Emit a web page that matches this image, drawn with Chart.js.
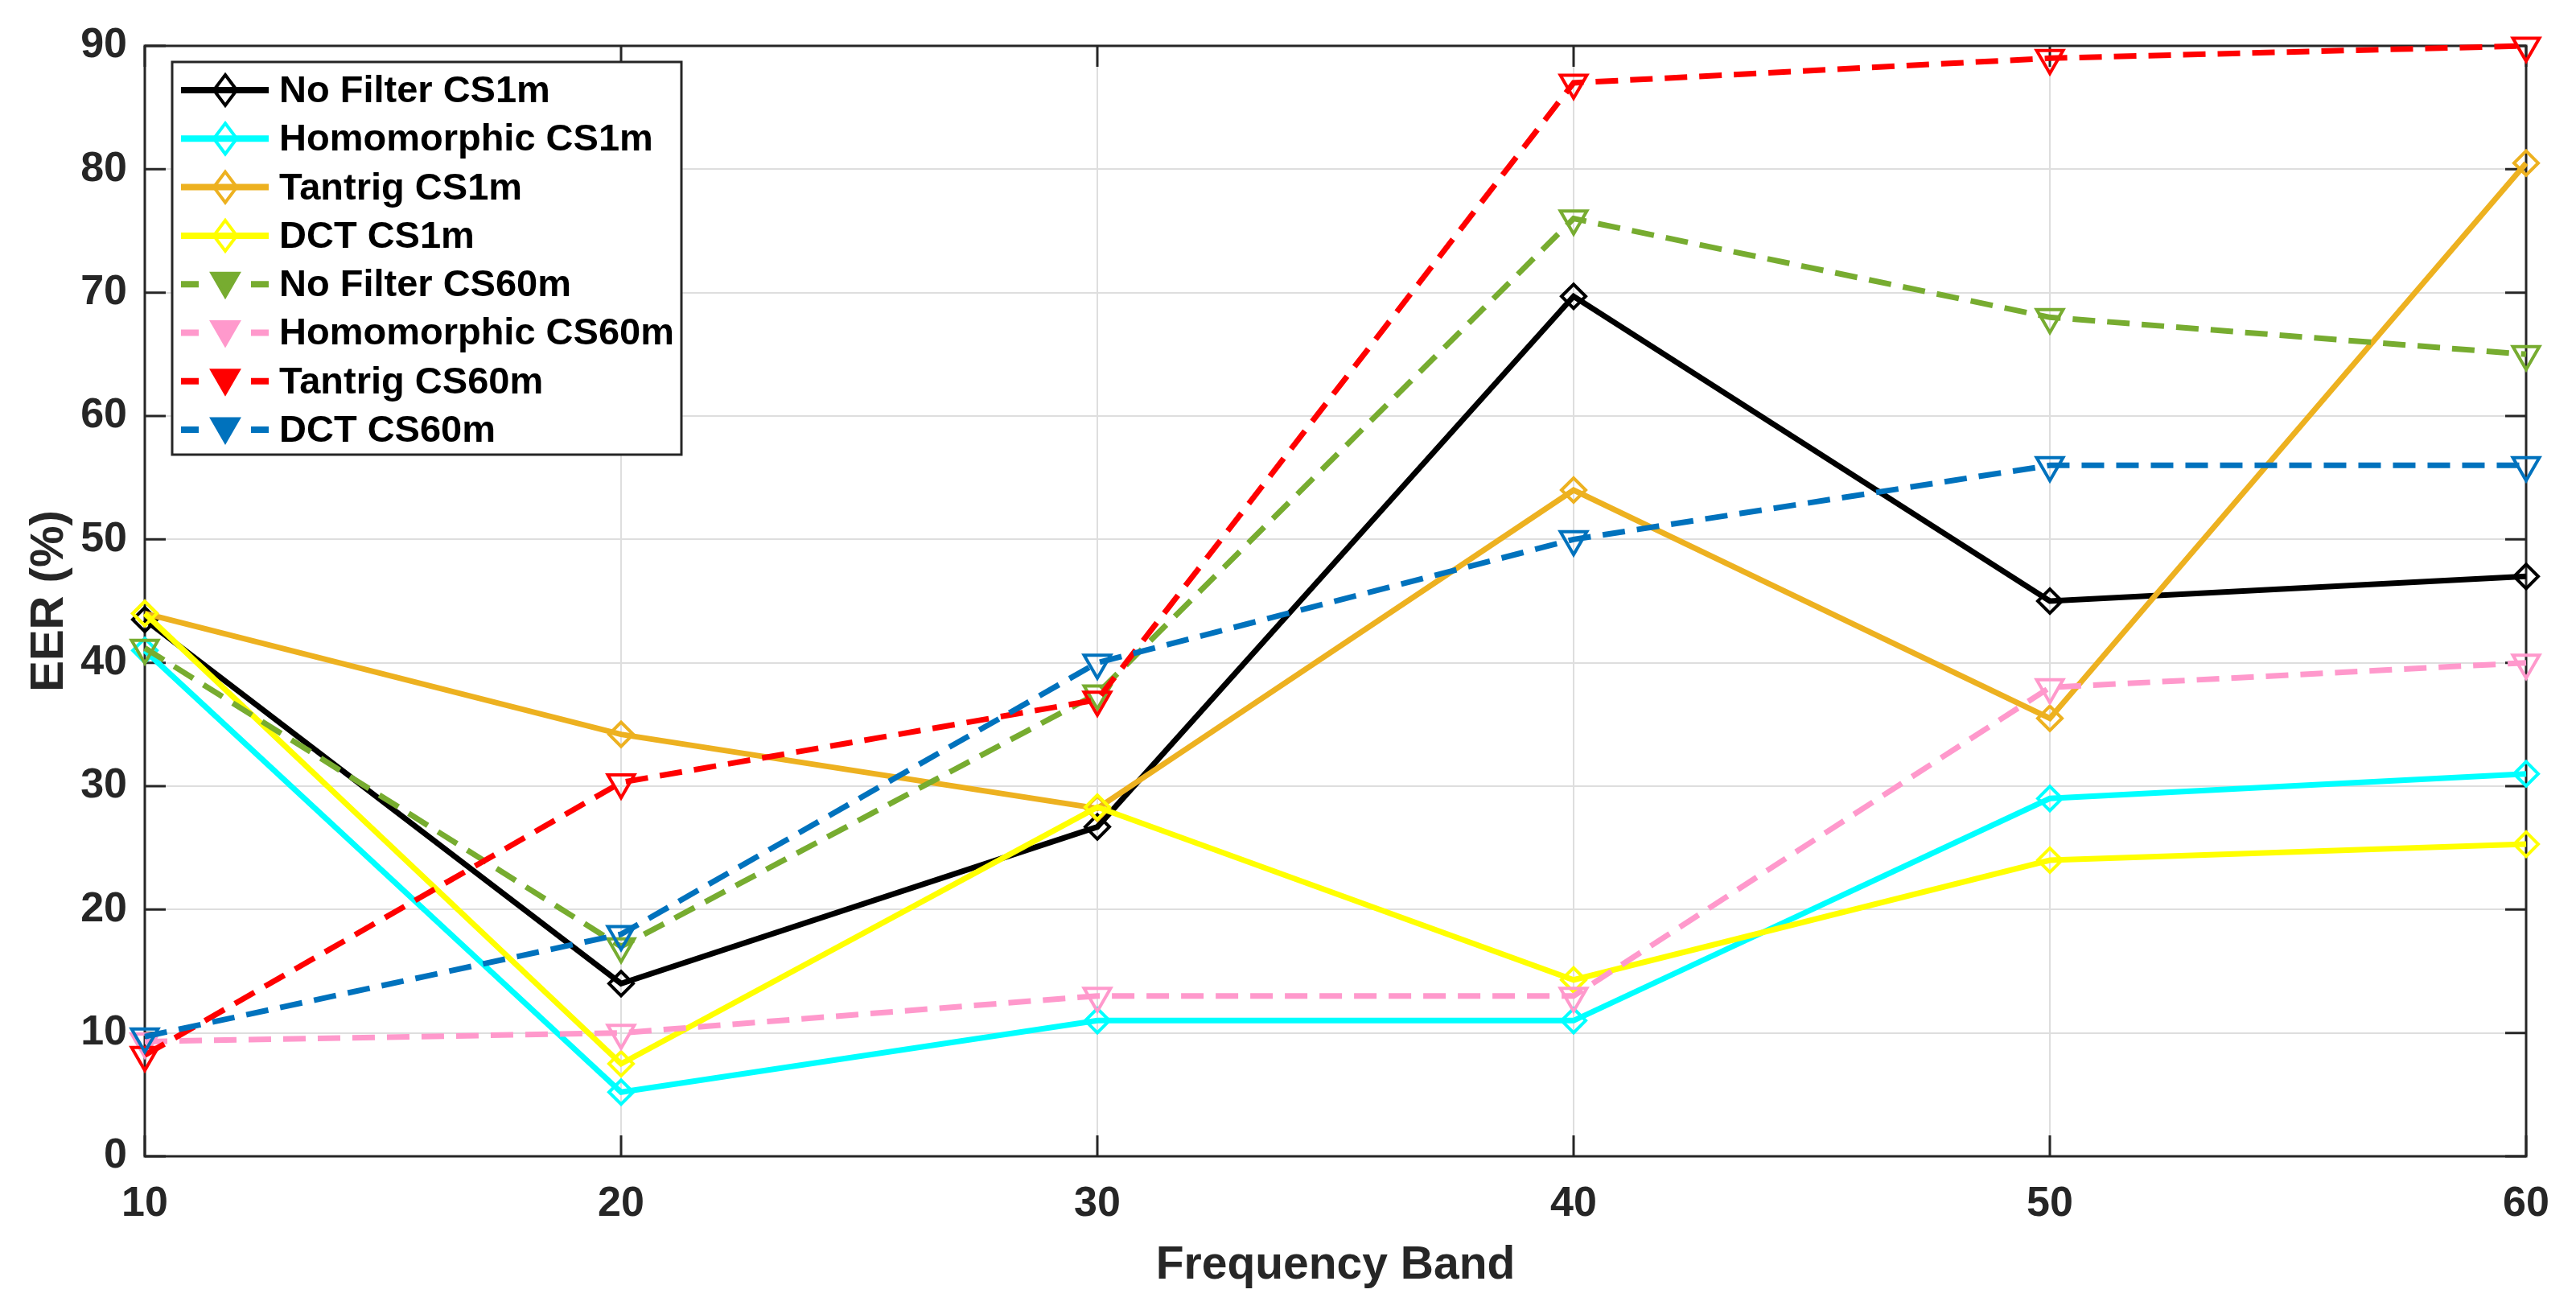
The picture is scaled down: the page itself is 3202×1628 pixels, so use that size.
<!DOCTYPE html>
<html>
<head>
<meta charset="utf-8">
<script src="https://cdn.jsdelivr.net/npm/chart.js@4.4.1/dist/chart.umd.min.js"></script>
<style>
  html, body { margin: 0; padding: 0; background: #fff; }
  #wrap { width: 3202px; height: 1628px; }
</style>
</head>
<body>
<div id="wrap"><canvas id="eerChart"></canvas></div>
<script>
// frequency bands (x axis)
const bands = [10, 20, 30, 40, 50, 60];

// EER (%) per band
const noFilterCS1m     = [43.5, 14.0, 26.7, 69.7, 45.0, 47.0];
const homomorphicCS1m  = [41.0, 5.2, 11.0, 11.0, 29.0, 31.0];
const tantrigCS1m      = [44.0, 34.2, 28.2, 54.0, 35.5, 80.5];
const dctCS1m          = [44.0, 7.5, 28.3, 14.3, 24.0, 25.3];
const noFilterCS60m    = [41.2, 17.0, 37.5, 76.0, 68.0, 65.0];
const homomorphicCS60m = [9.3, 10.0, 13.0, 13.0, 38.0, 40.0];
const tantrigCS60m     = [8.2, 30.3, 37.0, 87.0, 89.0, 90.0];
const dctCS60m         = [9.7, 18.0, 40.0, 50.0, 56.0, 56.0];

const seriesNames = [
    'No Filter CS1m', 'Homomorphic CS1m', 'Tantrig CS1m', 'DCT CS1m',
    'No Filter CS60m', 'Homomorphic CS60m', 'Tantrig CS60m', 'DCT CS60m'
];
const seriesValues = [
    noFilterCS1m, homomorphicCS1m, tantrigCS1m, dctCS1m,
    noFilterCS60m, homomorphicCS60m, tantrigCS60m, dctCS60m
];
const seriesColors = [
    '#000000', '#00ffff', '#edb120', '#ffff00',
    '#77ac30', '#ff99cc', '#ff0000', '#0072bd'
];

const frameColor = '#262626';
const fontFamily = "'Liberation Sans', Arial, sans-serif";
const dashPattern = [28, 15];

function isDashed(i) { return i >= 4; }

// build the datasets
const datasets = seriesValues.map((vals, i) => ({
    label: seriesNames[i],
    data: vals.map((v, k) => ({ x: bands[k], y: v })),
    borderColor: seriesColors[i],
    backgroundColor: 'rgba(0,0,0,0)',
    borderWidth: 7,
    borderDash: isDashed(i) ? dashPattern : [],
    pointStyle: isDashed(i) ? 'triangle' : 'rectRot',
    pointRotation: isDashed(i) ? 180 : 0,
    pointRadius: isDashed(i) ? 19 : 15,
    pointBorderWidth: 4,
    pointBorderColor: seriesColors[i],
    pointBackgroundColor: 'rgba(0,0,0,0)',
    tension: 0,
    clip: false,
    order: seriesValues.length - 1 - i // later series on top
}));

// frame on all four sides + inward ticks (matlab style)
const boxAndTicks = {
    id: 'boxAndTicks',
    beforeDatasetsDraw(chart) {
        const { ctx, chartArea: a, scales: { x, y } } = chart;
        const len = 26;
        ctx.save();
        ctx.strokeStyle = frameColor;
        ctx.lineWidth = 3;
        ctx.setLineDash([]);
        ctx.beginPath();
        y.ticks.forEach(t => {
            const py = y.getPixelForValue(t.value);
            ctx.moveTo(a.left, py); ctx.lineTo(a.left + len, py);
            ctx.moveTo(a.right, py); ctx.lineTo(a.right - len, py);
        });
        x.ticks.forEach(t => {
            const px = x.getPixelForValue(t.value);
            ctx.moveTo(px, a.bottom); ctx.lineTo(px, a.bottom - len);
            ctx.moveTo(px, a.top); ctx.lineTo(px, a.top + len);
        });
        ctx.stroke();
        ctx.strokeRect(a.left, a.top, a.right - a.left, a.bottom - a.top);
        ctx.restore();
    }
};

function drawMarker(ctx, kind, cx, cy, r, color, filled) {
    ctx.beginPath();
    if (kind === 'diamond') {
        ctx.moveTo(cx, cy - r); ctx.lineTo(cx + r * 0.75, cy);
        ctx.lineTo(cx, cy + r); ctx.lineTo(cx - r * 0.75, cy);
    } else {
        const h = r * Math.sqrt(3) / 2;
        ctx.moveTo(cx - h, cy - r / 2); ctx.lineTo(cx + h, cy - r / 2);
        ctx.lineTo(cx, cy + r);
    }
    ctx.closePath();
    if (filled) { ctx.fillStyle = color; ctx.fill(); }
    ctx.lineWidth = 4;
    ctx.strokeStyle = color;
    ctx.stroke();
}

// legend box drawn inside the plot, top-left
const insideLegend = {
    id: 'insideLegend',
    afterDraw(chart) {
        const { ctx } = chart;
        const bx = 214, by = 77, bw = 633, bh = 488;
        ctx.save();
        ctx.fillStyle = '#ffffff';
        ctx.fillRect(bx, by, bw, bh);
        ctx.strokeStyle = frameColor;
        ctx.lineWidth = 3;
        ctx.strokeRect(bx, by, bw, bh);
        ctx.font = 'bold 47px ' + fontFamily;
        ctx.textBaseline = 'middle';
        ctx.textAlign = 'left';
        chart.data.datasets.forEach((ds, i) => {
            const cy = 112 + i * 60.3;
            const x0 = 225, x1 = 334, xm = 280;
            ctx.strokeStyle = ds.borderColor;
            ctx.lineWidth = 8;
            ctx.setLineDash([]);
            ctx.beginPath();
            if (isDashed(i)) {
                ctx.moveTo(x0, cy); ctx.lineTo(x0 + 22, cy);
                ctx.moveTo(x1 - 22, cy); ctx.lineTo(x1, cy);
            } else {
                ctx.moveTo(x0, cy); ctx.lineTo(x1, cy);
            }
            ctx.stroke();
            if (isDashed(i)) drawMarker(ctx, 'triangle', xm, cy - 4, 19, ds.borderColor, true);
            else drawMarker(ctx, 'diamond', xm, cy, 19, ds.borderColor, false);
            ctx.fillStyle = '#000000';
            ctx.fillText(ds.label, 347, cy + 2);
        });
        ctx.restore();
    }
};

const tickFont = { family: fontFamily, size: 52, weight: 'bold' };

const config = {
    type: 'line',
    data: { datasets: datasets },
    options: {
        responsive: true,
        maintainAspectRatio: false,
        devicePixelRatio: 1,
        animation: false,
        layout: { padding: { top: 57, right: 62, bottom: 0, left: 0 } },
        plugins: {
            legend: { display: false },
            tooltip: { enabled: false },
            title: { display: false }
        },
        scales: {
            x: {
                type: 'linear',
                min: 10,
                max: 60,
                ticks: { stepSize: 10, padding: 28, color: frameColor, font: tickFont },
                grid: { color: '#dedede', lineWidth: 2, drawTicks: false },
                border: { display: false },
                title: {
                    display: true,
                    text: 'Frequency Band',
                    color: frameColor,
                    font: { family: fontFamily, size: 57, weight: 'bold' },
                    padding: { top: 0, bottom: 21 }
                },
                afterFit(scale) { scale.height = 191; }
            },
            y: {
                min: 0,
                max: 90,
                ticks: { stepSize: 10, padding: 22, color: frameColor, font: tickFont },
                grid: { color: '#dedede', lineWidth: 2, drawTicks: false },
                border: { display: false },
                title: {
                    display: true,
                    text: 'EER (%)',
                    color: frameColor,
                    font: { family: fontFamily, size: 58, weight: 'bold' },
                    padding: { top: 27, bottom: 0 }
                },
                afterFit(scale) { scale.width = 180; }
            }
        }
    },
    plugins: [boxAndTicks, insideLegend]
};

new Chart(document.getElementById('eerChart'), config);
</script>
</body>
</html>
